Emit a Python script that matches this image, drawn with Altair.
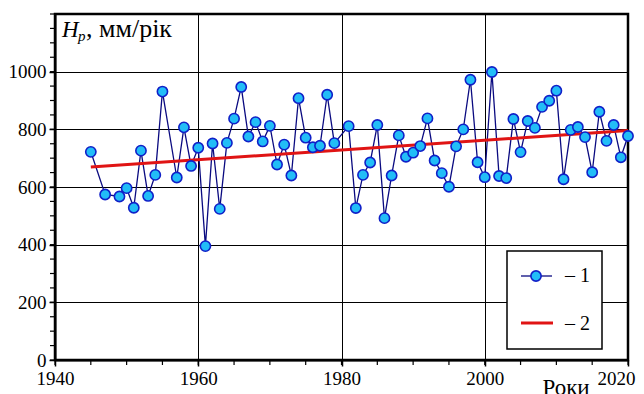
import altair as alt
import pandas as pd

years = [1945, 1947, 1949, 1950, 1951, 1952, 1953, 1954, 1955, 1957, 1958, 1959,
         1960, 1961, 1962, 1963, 1964, 1965, 1966, 1967, 1968, 1969, 1970, 1971,
         1972, 1973, 1974, 1975, 1976, 1977, 1978, 1979, 1981, 1982, 1983, 1984,
         1985, 1986, 1987, 1988, 1989, 1990, 1991, 1992, 1993, 1994, 1995, 1996,
         1997, 1998, 1999, 2000, 2001, 2002, 2003, 2004, 2005, 2006, 2007, 2008,
         2009, 2010, 2011, 2012, 2013, 2014, 2015, 2016, 2017, 2018, 2019, 2020]
values = [722, 574, 567, 596, 528, 726, 569, 642, 931, 633, 807, 673,
          736, 395, 751, 524, 753, 837, 947, 775, 825, 758, 812, 678,
          747, 640, 908, 771, 738, 743, 920, 752, 811, 527, 642, 685,
          815, 492, 640, 779, 705, 719, 742, 838, 692, 648, 601, 741,
          800, 972, 686, 634, 999, 638, 631, 836, 721, 829, 805, 878,
          899, 934, 627, 798, 808, 773, 651, 861, 760, 815, 703, 777]

trend_years = [1945, 2020]
trend_values = [669, 796]

x_major = [1940, 1960, 1980, 2000, 2020]
y_major = [0, 200, 400, 600, 800, 1000]
x_minor = list(range(1940, 2021, 5))
y_minor = list(range(0, 1201, 50))

legend_labels = ["\u2013 1", "\u2013 2"]
x_title = "Роки"

W, H = 573, 346
FONT = "Liberation Serif"
NAVY = "#0a0a80"
PFILL = "#22bdf7"
PSTROKE = "#1020c8"
RED = "#e01414"

df = pd.DataFrame({"year": years, "value": values})
tdf = pd.DataFrame({"year": trend_years, "value": trend_values})

xs = alt.Scale(domain=[1940, 2020], nice=False, zero=False)
ys = alt.Scale(domain=[0, 1200], nice=False)

xaxis = alt.Axis(values=x_major, format="d", title=None, grid=True, gridColor="black",
                 gridWidth=1, tickSize=6, tickWidth=1.5, tickColor="black",
                 domainColor="black", domainWidth=2, labelFont=FONT, labelFontSize=19,
                 labelColor="black", labelPadding=3, labelFlush=False, labelOverlap=False,
                 labelOffset=alt.ExprRef(expr="datum.value == 2020 ? -12 : 0"))
yaxis = alt.Axis(values=y_major, format="d", title=None, grid=True, gridColor="black",
                 gridWidth=1, tickSize=6, tickWidth=1.5, tickColor="black",
                 domainColor="black", domainWidth=2, labelFont=FONT, labelFontSize=19,
                 labelColor="black", labelPadding=3, labelFlush=False, labelOverlap=False)

line = alt.Chart(df).mark_line(color=NAVY, strokeWidth=1.3).encode(
    x=alt.X("year:Q", scale=xs, axis=xaxis),
    y=alt.Y("value:Q", scale=ys, axis=yaxis),
)
pts = alt.Chart(df).mark_point(shape="circle", filled=True, fill=PFILL, stroke=PSTROKE,
                               strokeWidth=1.6, size=105, opacity=1).encode(
    x=alt.X("year:Q", scale=xs, axis=xaxis), y=alt.Y("value:Q", scale=ys, axis=yaxis))
trend = alt.Chart(tdf).mark_line(color=RED, strokeWidth=3).encode(
    x=alt.X("year:Q", scale=xs, axis=xaxis), y=alt.Y("value:Q", scale=ys, axis=yaxis))

xm = alt.Chart(pd.DataFrame({"t": x_minor})).mark_rule(color="black", strokeWidth=1.2).encode(
    x=alt.X("t:Q", scale=xs, axis=xaxis), y=alt.value(H), y2=alt.value(H + 5))
ym = alt.Chart(pd.DataFrame({"t": y_minor})).mark_rule(color="black", strokeWidth=1.2).encode(
    y=alt.Y("t:Q", scale=ys, axis=yaxis), x=alt.value(0), x2=alt.value(-5))

one = pd.DataFrame({"a": [0]})
box = alt.Chart(one).mark_rect(fill="white", stroke="black", strokeWidth=1.5).encode(
    x=alt.value(452), x2=alt.value(547), y=alt.value(237), y2=alt.value(335))
leg_l1 = alt.Chart(one).mark_rule(color=NAVY, strokeWidth=1.3).encode(
    x=alt.value(466), x2=alt.value(497), y=alt.value(262))
leg_p1 = alt.Chart(one).mark_point(shape="circle", filled=True, fill=PFILL, stroke=PSTROKE,
                                   strokeWidth=1.6, size=105, opacity=1).encode(
    x=alt.value(481), y=alt.value(262))
leg_l2 = alt.Chart(one).mark_rule(color=RED, strokeWidth=3).encode(
    x=alt.value(466), x2=alt.value(498), y=alt.value(309))
leg_t1 = alt.Chart(one).mark_text(text=legend_labels[0], font=FONT, fontSize=20, align="left",
                                  baseline="middle", color="black").encode(
    x=alt.value(510), y=alt.value(262))
leg_t2 = alt.Chart(one).mark_text(text=legend_labels[1], font=FONT, fontSize=20, align="left",
                                  baseline="middle", color="black").encode(
    x=alt.value(510), y=alt.value(310))

t_h = alt.Chart(one).mark_text(text="H", font=FONT, fontSize=23, fontStyle="italic",
                               align="left", baseline="alphabetic", color="black").encode(
    x=alt.value(7), y=alt.value(23))
t_p = alt.Chart(one).mark_text(text="p", font=FONT, fontSize=15, fontStyle="italic",
                               align="left", baseline="alphabetic", color="black").encode(
    x=alt.value(23), y=alt.value(27))
t_u = alt.Chart(one).mark_text(text=", мм/рік", font=FONT, fontSize=26,
                               align="left", baseline="alphabetic", color="black").encode(
    x=alt.value(31), y=alt.value(23))
t_x = alt.Chart(one).mark_text(text=x_title, font=FONT, fontSize=23,
                               align="center", baseline="alphabetic", color="black").encode(
    x=alt.value(511), y=alt.value(381))

chart = alt.layer(line, trend, pts, xm, ym, box, leg_l1, leg_p1, leg_l2, leg_t1, leg_t2,
                  t_h, t_p, t_u, t_x).properties(
    width=W, height=H,
    autosize=alt.AutoSizeParams(type="none"),
    padding={"left": 47, "top": 6, "right": 8, "bottom": 34},
).configure(background="white", font=FONT).configure_view(
    stroke="black", strokeWidth=2.5
).configure_axis(labelFont=FONT, labelFontSize=19, labelColor="black")

chart.save("out.html", embed_options={"renderer": "svg", "actions": False})
